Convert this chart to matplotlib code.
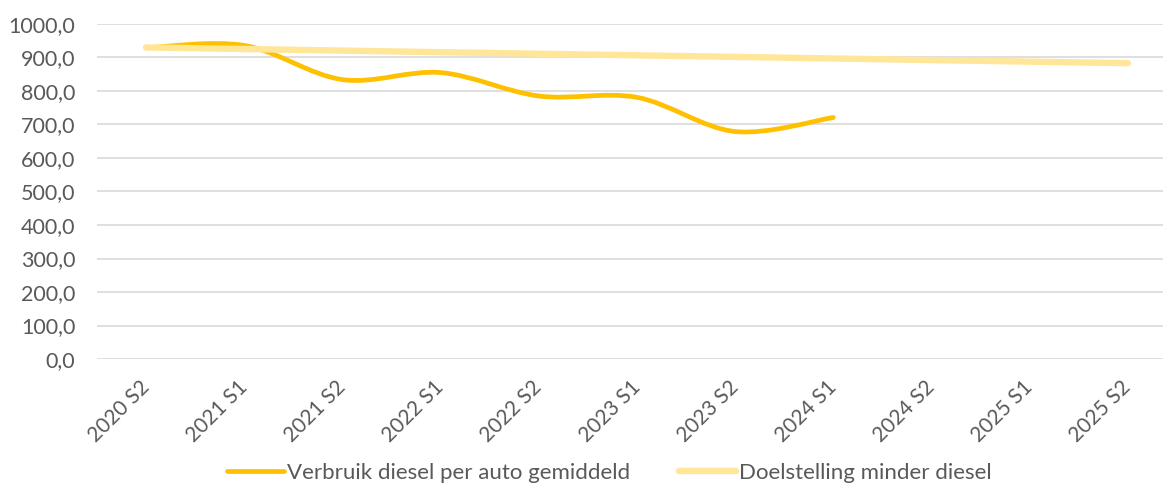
import numpy as np
import matplotlib
matplotlib.use('Agg')
import matplotlib.pyplot as plt
from matplotlib.path import Path
from matplotlib.patches import PathPatch
from matplotlib.lines import Line2D

# Half-year periods on the category axis
periods = ["2020 S2", "2021 S1", "2021 S2", "2022 S1", "2022 S2", "2023 S1",
           "2023 S2", "2024 S1", "2024 S2", "2025 S1", "2025 S2"]

# Average diesel use per car (only measured up to 2024 S1)
verbruik = [929, 936, 834, 855, 785, 781, 679, 721]

# Target line, slowly going down
doelstelling = [930, 925.3, 920.6, 915.9, 911.2, 906.5, 901.8, 897.1, 892.4, 887.7, 883.0]

y_ticks = [0, 100, 200, 300, 400, 500, 600, 700, 800, 900, 1000]

ORANGE = "#FFC000"
PALE = "#FFE699"
GRID = "#D9D9D9"
TEXT = "#595959"

plt.rcParams['font.family'] = ['Lato', 'DejaVu Sans']


def smooth_path(xs, ys):
    # Excel style smoothed line: cubic bezier through every point
    pts = np.column_stack([xs, ys]).astype(float)
    n = len(pts)
    verts = [pts[0]]
    codes = [Path.MOVETO]
    for i in range(n - 1):
        p_prev = pts[i - 1] if i > 0 else pts[i]
        p_next = pts[i + 2] if i + 2 < n else pts[i + 1]
        c1 = pts[i] + (pts[i + 1] - p_prev) / 6.0
        c2 = pts[i + 1] - (p_next - pts[i]) / 6.0
        verts += [c1, c2, pts[i + 1]]
        codes += [Path.CURVE4] * 3
    return Path(verts, codes)


W, H = 1163, 486
fig = plt.figure(figsize=(W / 100, H / 100), dpi=100)
# plot area runs a bit past the right edge, like the cropped original
left, right, top, bottom = 97, 1177, 24, 359
ax = fig.add_axes([left / W, 1 - bottom / H, (right - left) / W, (bottom - top) / H])

ax.set_xlim(-0.5, len(periods) - 0.5)
ax.set_ylim(0, 1000)

for v in y_ticks:
    ax.axhline(v, color=GRID, lw=1.2, zorder=0)

for s in ax.spines.values():
    s.set_visible(False)

ax.set_yticks(y_ticks)
ax.set_yticklabels([f"{v:.1f}".replace(".", ",") for v in y_ticks])
ax.set_xticks(range(len(periods)))
ax.set_xticklabels(periods, rotation=45, ha='right', va='center', rotation_mode='anchor')
ax.tick_params(axis='y', length=0, pad=15.5, labelsize=15.5, labelcolor=TEXT)
ax.tick_params(axis='x', length=0, pad=18, labelsize=15, labelcolor=TEXT)

x_v = np.arange(len(verbruik))
x_d = np.arange(len(doelstelling))

ax.add_patch(PathPatch(smooth_path(x_v, verbruik), fill=False, edgecolor=ORANGE,
                       lw=3.4, capstyle='round', joinstyle='round', zorder=3))
ax.add_patch(PathPatch(smooth_path(x_d, doelstelling), fill=False, edgecolor=PALE,
                       lw=4.6, capstyle='round', joinstyle='round', zorder=4))

handles = [Line2D([], [], color=ORANGE, lw=3.4, solid_capstyle='round'),
           Line2D([], [], color=PALE, lw=4.6, solid_capstyle='round')]
fig.legend(handles, ["Verbruik diesel per auto gemiddeld", "Doelstelling minder diesel"],
           loc='center', bbox_to_anchor=(609 / W, 1 - 473 / H), ncol=2, frameon=False,
           fontsize=16, labelcolor=TEXT, handlelength=2.6, handletextpad=0.1,
           columnspacing=2.2, borderpad=0)

fig.savefig('out.png', dpi=100)
